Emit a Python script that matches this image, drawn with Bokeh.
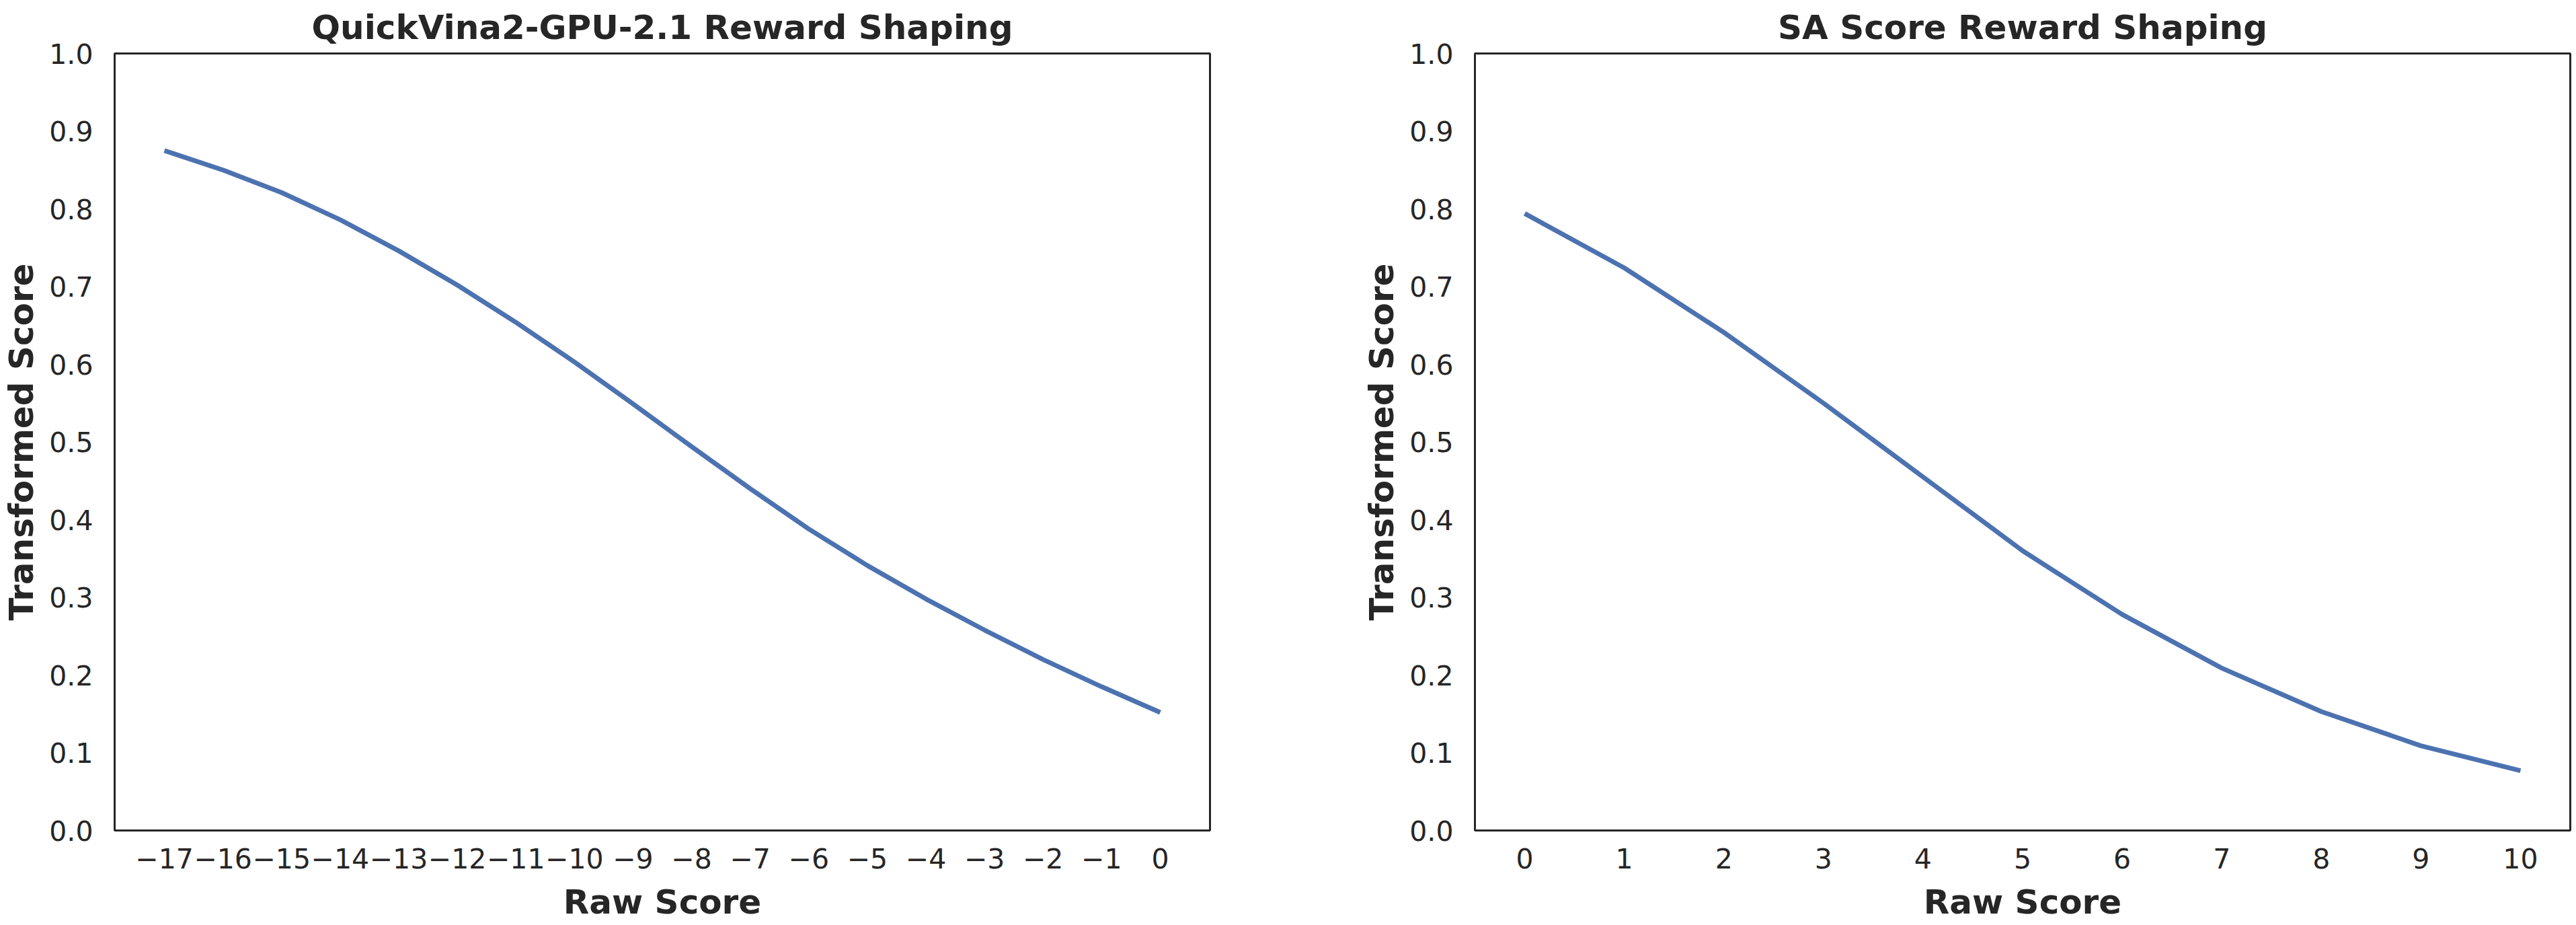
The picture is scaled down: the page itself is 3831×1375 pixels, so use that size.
from bokeh.plotting import figure
from bokeh.layouts import row
from bokeh.models import FixedTicker, Range1d
from bokeh.embed import file_html
from bokeh.resources import INLINE

# ---- data ----
vina_raw = [-17, -16, -15, -14, -13, -12, -11, -10, -9, -8, -7, -6, -5, -4, -3, -2, -1, 0]
vina_transformed = [0.875, 0.850, 0.821, 0.786, 0.746, 0.702, 0.654, 0.603, 0.549, 0.494,
                    0.440, 0.388, 0.341, 0.298, 0.258, 0.220, 0.185, 0.152]

sa_raw = [0, 1, 2, 3, 4, 5, 6, 7, 8, 9, 10]
sa_transformed = [0.794, 0.724, 0.641, 0.550, 0.455, 0.360, 0.278, 0.209, 0.153, 0.109, 0.077]

y_ticks = [0.0, 0.1, 0.2, 0.3, 0.4, 0.5, 0.6, 0.7, 0.8, 0.9, 1.0]
titles = ["QuickVina2-GPU-2.1 Reward Shaping", "SA Score Reward Shaping"]
x_label = "Raw Score"
y_label = "Transformed Score"

TEXT = "#262626"
LINE = "#4C72B0"
FONT = "DejaVu Sans"


def make(title, xs, ys, xr, border_left, border_right):
    p = figure(output_backend="svg", toolbar_location=None,
               frame_width=1629, frame_height=1155,
               min_border_left=border_left, min_border_right=border_right,
               min_border_top=79, min_border_bottom=138,
               x_range=Range1d(*xr), y_range=Range1d(0, 1),
               title=title)
    p.title.text_font = FONT
    p.title.text_font_size = "50px"
    p.title.text_font_style = "bold"
    p.title.text_color = TEXT
    p.title.align = "center"
    p.title.vertical_align = "top"
    p.title.standoff = 15

    p.line(xs, ys, line_color=LINE, line_width=7)

    p.xgrid.visible = False
    p.ygrid.visible = False
    p.outline_line_color = TEXT
    p.outline_line_width = 3
    p.background_fill_color = "white"
    p.border_fill_color = "white"

    p.xaxis.ticker = FixedTicker(ticks=xs)
    p.xaxis.major_label_overrides = {x: (("\u2212" + str(-x)) if x < 0 else str(x)) for x in xs}
    p.yaxis.ticker = FixedTicker(ticks=y_ticks)
    p.yaxis.major_label_overrides = {t: "%.1f" % t for t in y_ticks}

    for ax in (p.xaxis[0], p.yaxis[0]):
        ax.axis_line_color = None
        ax.major_tick_line_color = None
        ax.minor_tick_line_color = None
        ax.major_tick_in = 0
        ax.major_tick_out = 0
        ax.minor_tick_in = 0
        ax.minor_tick_out = 0
        ax.major_label_text_font = FONT
        ax.major_label_text_font_size = "41px"
        ax.major_label_text_color = TEXT
        ax.axis_label_text_font = FONT
        ax.axis_label_text_font_size = "50px"
        ax.axis_label_text_font_style = "bold"
        ax.axis_label_text_color = TEXT
    p.xaxis.axis_label = x_label
    p.yaxis.axis_label = y_label
    p.xaxis.major_label_standoff = 26
    p.xaxis.axis_label_standoff = 18
    p.yaxis.major_label_standoff = 32
    p.yaxis.axis_label_standoff = 9
    return p


p1 = make(titles[0], vina_raw, vina_transformed, (-17.85, 0.85), 159, 224)
p2 = make(titles[1], sa_raw, sa_transformed, (-0.5, 10.5), 167, 7)

layout = row(p1, p2)
open("out.html", "w").write(file_html(layout, INLINE))
